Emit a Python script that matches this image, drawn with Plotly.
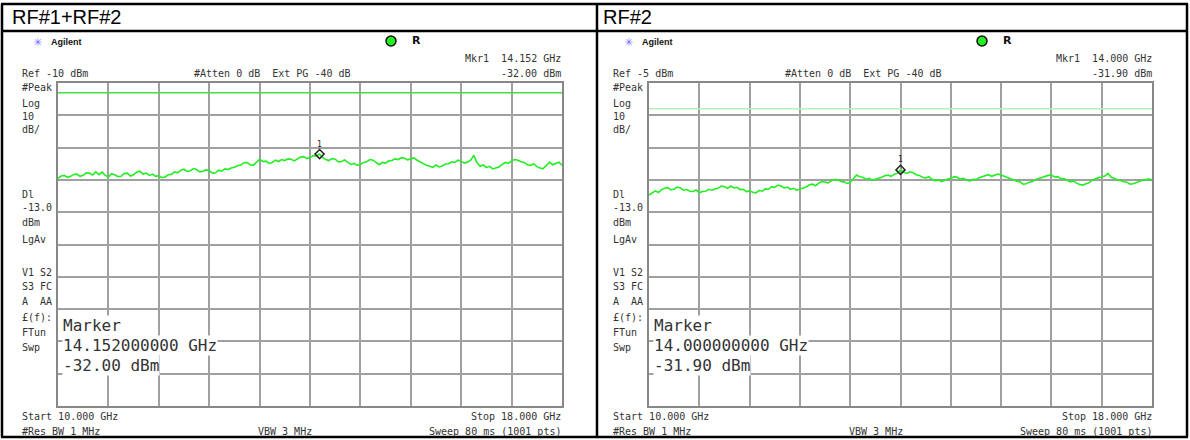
import numpy as np
import plotly.graph_objects as go

W, H = 1190, 440

# ---------------- data ----------------
panel_titles = ["RF#1+RF#2", "RF#2"]
ref_levels = [-10, -5]            # dBm, top of screen
db_per_div = 10
display_line = [-13.0, -13.0]
start_ghz, stop_ghz = 10.0, 18.0
marker_freq = [14.152, 14.000]
marker_level = [-32.00, -31.90]
mkr_freq_txt = ["14.152 GHz", "14.000 GHz"]
mkr_lvl_txt = ["-32.00 dBm", "-31.90 dBm"]
mkr_box_freq = ["14.152000000 GHz", "14.000000000 GHz"]
ref_txt = ["Ref -10 dBm", "Ref -5 dBm"]

trace_rf12 = [
    -39.5, -38.8, -38.6, -39.2, -38.9, -38.3, -38.2, -38.9, -38.6, -37.8,
    -37.9, -38.5, -37.5, -38.4, -37.6, -38.6, -39.1, -38.1, -38.4, -39.0,
    -38.9, -38.0, -37.9, -38.8, -38.4, -37.6, -37.3, -38.2, -37.9, -38.6,
    -38.2, -38.9, -38.7, -39.3, -39.1, -38.4, -38.3, -37.5, -37.8, -37.0,
    -36.7, -37.4, -37.2, -36.5, -36.8, -37.5, -37.3, -36.9, -37.1, -37.9,
    -37.8, -37.0, -37.3, -36.6, -36.8, -36.3, -36.1, -35.6, -35.4, -34.7,
    -34.6, -35.3, -35.5, -34.6, -33.6, -34.3, -34.2, -34.9, -34.6, -33.9,
    -34.3, -33.7, -34.0, -33.5, -33.6, -34.1, -33.4, -32.9, -32.8, -33.4,
    -33.1, -32.5, -32.6, -32.0, -33.0, -33.7, -34.0, -33.4, -33.6, -34.4,
    -34.3, -33.8, -34.6, -35.2, -34.9, -35.5, -35.2, -34.6, -34.4, -33.7,
    -33.9, -34.7, -35.3, -34.6, -34.8, -34.1, -34.0, -33.5, -33.7, -33.1,
    -33.3, -33.8, -33.5, -33.2, -33.9, -34.5, -34.9, -35.5, -35.8, -36.1,
    -35.4, -36.0, -35.7, -35.1, -35.0, -34.4, -34.6, -33.9, -34.2, -34.8,
    -34.5, -33.9, -32.4, -34.6, -35.8, -35.4, -36.2, -35.8, -36.6, -36.2,
    -36.0, -35.2, -34.6, -34.9, -34.1, -33.7, -33.9, -34.4, -34.6, -35.3,
    -35.5, -35.0, -35.9, -36.3, -36.5, -35.6, -34.5, -35.3, -35.0, -34.5,
    -35.4,
]
trace_rf2 = [
    -39.7, -38.9, -38.4, -38.9, -38.0, -37.6, -37.4, -38.1, -37.8, -37.2,
    -37.5, -38.2, -38.0, -38.5, -38.6, -38.1, -39.0, -38.6, -38.5, -37.9,
    -38.2, -37.8, -37.6, -36.9, -37.1, -37.6, -36.9, -37.5, -37.3, -38.0,
    -37.9, -38.6, -38.4, -38.8, -39.0, -38.3, -38.5, -37.8, -37.9, -37.1,
    -37.3, -36.6, -36.9, -37.5, -37.2, -37.9, -37.6, -38.2, -37.9, -37.4,
    -37.2, -36.5, -36.3, -36.8, -36.0, -35.5, -35.6, -35.9, -35.3, -34.9,
    -35.0, -35.5, -35.6, -36.1, -35.8, -34.6, -33.5, -34.0, -34.2, -34.8,
    -34.5, -35.1, -34.9, -34.5, -34.2, -33.7, -33.5, -33.9, -33.3, -32.9,
    -31.9, -32.6, -33.0, -32.5, -32.8, -33.4, -33.6, -34.2, -34.4, -34.0,
    -34.8, -35.2, -35.0, -35.5, -35.2, -34.7, -34.6, -34.0, -34.1, -34.8,
    -34.5, -35.0, -35.4, -34.8, -34.9, -34.3, -34.0, -33.5, -33.4, -33.9,
    -33.6, -33.2, -33.5, -33.9, -34.2, -34.7, -34.9, -35.4, -35.6, -36.3,
    -36.2, -35.7, -35.5, -34.9, -34.6, -34.2, -34.0, -33.6, -33.5, -34.1,
    -34.0, -34.6, -34.6, -35.2, -35.6, -35.3, -36.0, -36.4, -36.6, -36.2,
    -35.9, -35.1, -34.6, -34.3, -34.1, -33.8, -33.0, -34.2, -34.5, -35.0,
    -35.2, -35.6, -35.7, -36.3, -36.2, -35.8, -35.6, -35.1, -35.0, -34.7,
    -35.2,
]
traces = [trace_rf12, trace_rf2]

side_labels = ["#Peak", "Log", "10", "dB/", "Dl", "-13.0", "dBm", "LgAv",
               "V1 S2", "S3 FC", "A  AA", "£(f):", "FTun", "Swp"]
side_label_y = [88, 103, 117, 130, 195, 208, 222, 240, 272, 286, 301, 317, 332, 347]

# ---------------- layout helpers ----------------
def px(x):
    return x / W

def py(y):
    return 1 - y / H

fig = go.Figure()
annotations = []
shapes = []

def txt(x, y, s, size=10, anchor="left", font="DejaVu Sans Mono", color="#333",
        bg=None, bold=False):
    a = dict(x=px(x), y=py(y), xref="paper", yref="paper", text=f"<b>{s}</b>" if bold else s,
             showarrow=False, xanchor=anchor, yanchor="middle",
             font=dict(family=font, size=size, color=color))
    if bg:
        a["bgcolor"] = bg
        a["borderpad"] = 0
    annotations.append(a)

grid_left = [58, 649]
grid_right = [562, 1152]
grid_top, grid_bottom = 83, 406
offsets = [0, 591]
dl_colors = ["#44dd44", "#b8f0b8"]
trace_color = "#22ee22"

for i in range(2):
    xa = "xaxis" if i == 0 else "xaxis2"
    ya = "yaxis" if i == 0 else "yaxis2"
    xr = "x" if i == 0 else "x2"
    yr = "y" if i == 0 else "y2"
    top = ref_levels[i]
    bottom = top - 10 * db_per_div
    ax_common = dict(showgrid=True, gridcolor="#a0a0a0", gridwidth=1.5, showline=True,
                     mirror=True, linecolor="#888", linewidth=2, zeroline=False,
                     showticklabels=False, ticks="", fixedrange=True)
    fig.update_layout(**{
        xa: dict(domain=[px(grid_left[i]), px(grid_right[i])], range=[start_ghz, stop_ghz],
                 dtick=(stop_ghz - start_ghz) / 10, tick0=start_ghz, anchor=yr, **ax_common),
        ya: dict(domain=[py(grid_bottom), py(grid_top)], range=[bottom, top],
                 dtick=db_per_div, tick0=bottom, anchor=xr, **ax_common),
    })
    freq = np.linspace(start_ghz, stop_ghz, len(traces[i]))
    # display line
    fig.add_trace(go.Scatter(x=[start_ghz, stop_ghz], y=[display_line[i]] * 2, mode="lines",
                             line=dict(color=dl_colors[i], width=1.5), xaxis=xr, yaxis=yr,
                             hoverinfo="skip", showlegend=False))
    # trace
    fig.add_trace(go.Scatter(x=freq, y=traces[i], mode="lines",
                             line=dict(color=trace_color, width=1.6), xaxis=xr, yaxis=yr,
                             showlegend=False))
    # marker
    fig.add_trace(go.Scatter(x=[marker_freq[i]], y=[marker_level[i]], mode="markers",
                             marker=dict(symbol="diamond-open", size=7, color="#222",
                                         line=dict(width=1.5)),
                             xaxis=xr, yaxis=yr, showlegend=False))
    annotations.append(dict(x=marker_freq[i], y=marker_level[i], xref=xr, yref=yr, text="1",
                            showarrow=False, yshift=10, font=dict(family="DejaVu Sans Mono",
                                                                   size=8, color="#222")))

    o = offsets[i]
    # title
    txt(o + 10, 17, panel_titles[i], size=20, font="Arial", color="#000")
    # Agilent logo
    txt(o + 37, 42, "✳", size=11, anchor="center", font="DejaVu Sans", color="#7070ff")
    txt(o + 49, 42, "Agilent", size=9, font="Arial", color="#111", bold=True)
    shapes.append(dict(type="circle", xref="paper", yref="paper",
                       x0=px(o + 386), x1=px(o + 396), y0=py(46), y1=py(36),
                       fillcolor="#22ee22", line=dict(color="#111", width=1.5)))
    txt(o + 410, 41, "R", size=11, font="DejaVu Sans", color="#111", bold=True)
    txt(o + 563, 59, "Mkr1  " + mkr_freq_txt[i], anchor="right")
    txt(o + 20, 73, ref_txt[i])
    txt(o + 192, 73, "#Atten 0 dB  Ext PG -40 dB")
    txt(o + 563, 73, mkr_lvl_txt[i], anchor="right")
    for s, yy in zip(side_labels, side_label_y):
        txt(o + 20, yy, s)
    # marker readout box
    txt(o + 62, 325, "Marker", size=16, bg="white")
    txt(o + 62, 345, mkr_box_freq[i], size=16, bg="white")
    txt(o + 62, 365, mkr_lvl_txt[i], size=16, bg="white")
    # bottom annotations
    txt(o + 20, 416, "Start 10.000 GHz")
    txt(o + 563, 416, "Stop 18.000 GHz", anchor="right")
    txt(o + 20, 431, "#Res BW 1 MHz")
    txt(o + 285, 431, "VBW 3 MHz", anchor="center")
    txt(o + 563, 431, "Sweep 80 ms (1001 pts)", anchor="right")

# table frame
def hline(y, x0, x1, w=2.5):
    shapes.append(dict(type="line", xref="paper", yref="paper", x0=px(x0), x1=px(x1),
                       y0=py(y), y1=py(y), line=dict(color="#000", width=w)))

def vline(x, y0, y1, w=2.5):
    shapes.append(dict(type="line", xref="paper", yref="paper", x0=px(x), x1=px(x),
                       y0=py(y0), y1=py(y1), line=dict(color="#000", width=w)))

hline(4, 1, 1188)
hline(31, 1, 1188)
hline(437, 1, 1188)
vline(2, 4, 437)
vline(597, 4, 437)
vline(1187, 4, 437)

fig.update_layout(width=W, height=H, margin=dict(l=0, r=0, t=0, b=0),
                  paper_bgcolor="white", plot_bgcolor="white", showlegend=False,
                  annotations=annotations, shapes=shapes)
fig.write_html("out.html", config={"displayModeBar": False},
               post_script="document.body.style.margin='0';document.body.style.overflow='hidden';")
